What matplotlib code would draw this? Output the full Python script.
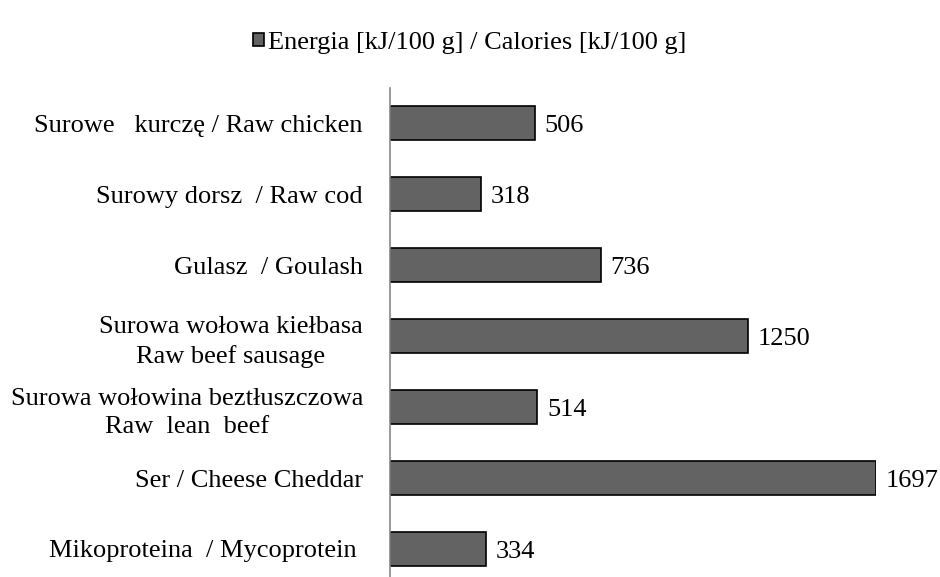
import matplotlib.pyplot as plt

labels = [
    "Surowe   kurczę / Raw chicken",
    "Surowy dorsz  / Raw cod",
    "Gulasz  / Goulash",
    "Surowa wołowa kiełbasa\nRaw beef sausage",
    "Surowa wołowina beztłuszczowa\nRaw  lean  beef",
    "Ser / Cheese Cheddar",
    "Mikoproteina  / Mycoprotein ",
]
energy = [506, 318, 736, 1250, 514, 1697, 334]
legend_label = "Energia [kJ/100 g] / Calories [kJ/100 g]"

plt.rcParams['font.family'] = ['Liberation Serif', 'DejaVu Serif']
fs = 19

fig = plt.figure(figsize=(9.4, 5.77), dpi=100)
# axes spans x 390..876 px for 0..1697; categories band 87.5..584.5 px
ax = fig.add_axes([390 / 940, (577 - 584.5) / 577, 486 / 940, 497 / 577])

pos = list(range(len(labels)))
bars = ax.barh(pos, energy, height=0.48, color='#636363', edgecolor='black',
               linewidth=1.2, label=legend_label)
ax.set_ylim(len(labels) - 0.5, -0.5)
ax.set_xlim(0, max(energy))

for p, v in zip(pos, energy):
    ax.annotate(str(v), (v, p), xytext=(7, 0), textcoords='offset points',
                va='center_baseline', ha='left', fontsize=fs)

ax.set_yticks(pos)
ax.set_yticklabels(labels, fontsize=fs, multialignment='center', linespacing=1.4)
ax.tick_params(axis='y', length=0, pad=19.5)
ax.set_xticks([])
for s in ['top', 'right', 'bottom']:
    ax.spines[s].set_visible(False)
ax.spines['left'].set_color('#888888')
ax.spines['left'].set_linewidth(1.2)

fig.legend(handles=[bars], labels=[legend_label], loc='center',
           bbox_to_anchor=(0.5, 1 - 43 / 577), frameon=False, fontsize=fs,
           handlelength=0.42, handleheight=0.42, handletextpad=0.15)

fig.savefig('out.png', dpi=100)
